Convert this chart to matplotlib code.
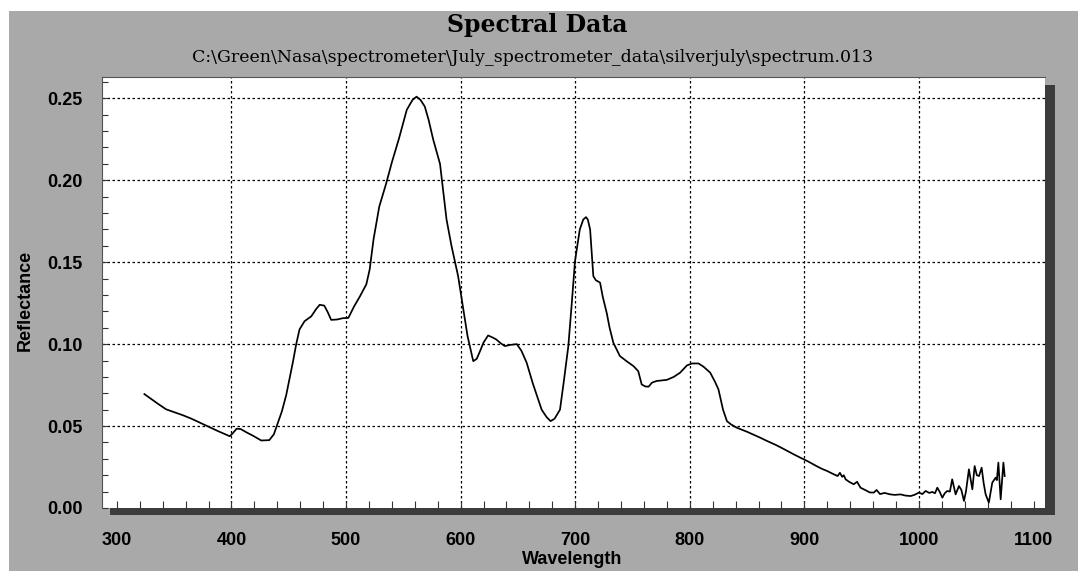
import matplotlib
matplotlib.use("Agg")
import matplotlib.pyplot as plt
from matplotlib.patches import Rectangle
from matplotlib.ticker import MultipleLocator, FixedLocator

# Spectrometer reading: wavelength (nm) and reflectance
wavelength = [
    324, 330, 336, 343, 350, 358, 365, 372, 380, 388, 394, 398.5, 401, 404.5,
    408, 413, 419, 426, 433, 437, 440.5, 444, 447.8, 451, 453.6, 456.5, 459.4,
    463.8, 469.7, 474, 477, 481, 484, 487, 492, 497, 502, 507, 512, 517.7,
    520.6, 524, 529, 535, 540, 546, 553, 558, 561.5, 565, 568.7, 572, 576,
    580, 582, 585, 587.7, 592, 597.8, 602, 606, 611, 614, 616.8, 620, 624,
    628, 631, 635, 638.6, 643, 649, 653, 657.6, 663, 670.7, 675, 678.5, 682,
    686.7, 690, 694, 697, 699.8, 704, 707, 709.4, 711, 713, 715.8, 718, 721.7,
    724, 727.5, 730, 733.3, 739, 745, 750.8, 755, 758, 761, 764, 767, 771,
    780, 786, 791.6, 797.5, 802, 807.6, 812, 817.8, 822, 825, 829, 832.4, 836,
    841, 850, 861.5, 867.4, 875, 882, 890, 896.5, 903, 910, 915, 919.8, 925,
    929, 931, 933, 934.4, 936, 939, 943, 946, 949, 953, 957, 960.6, 963, 966,
    970, 975, 979, 984, 988, 992.7, 996, 999.9, 1003, 1005.8, 1009, 1011.6,
    1014, 1016, 1018, 1020.4, 1022.5, 1024.7, 1027, 1029, 1032, 1034.9, 1037,
    1039.3, 1041, 1043.6, 1046.6, 1048.6, 1050.5, 1052.4, 1054.7, 1056.5,
    1058.2, 1061, 1064, 1066.9, 1068, 1069.3, 1071.3, 1073.7, 1074.8,
]
reflectance = [
    0.0695, 0.0665, 0.0635, 0.0602, 0.0585, 0.0565, 0.0545, 0.0522, 0.0495,
    0.0470, 0.0452, 0.0438, 0.0455, 0.0484, 0.0482, 0.0462, 0.0440, 0.0412,
    0.0414, 0.0450, 0.0520, 0.0590, 0.0690, 0.0800, 0.0890, 0.1000, 0.1090,
    0.1140, 0.1170, 0.1215, 0.1240, 0.1235, 0.1195, 0.1148, 0.1150, 0.1158,
    0.1160, 0.1230, 0.1290, 0.1365, 0.1455, 0.1640, 0.1840, 0.1980, 0.2110,
    0.2250, 0.2430, 0.2490, 0.2510, 0.2490, 0.2450, 0.2370, 0.2250, 0.2150,
    0.2100, 0.1920, 0.1760, 0.1600, 0.1415, 0.1230, 0.1050, 0.0896, 0.0910,
    0.0955, 0.1010, 0.1053, 0.1040, 0.1029, 0.1005, 0.0988, 0.0995, 0.1000,
    0.0960, 0.0887, 0.0760, 0.0600, 0.0555, 0.0530, 0.0545, 0.0600, 0.0770,
    0.0988, 0.1250, 0.1506, 0.1700, 0.1760, 0.1775, 0.1760, 0.1700, 0.1415,
    0.1390, 0.1375, 0.1290, 0.1190, 0.1100, 0.1008, 0.0927, 0.0895, 0.0866,
    0.0835, 0.0754, 0.0742, 0.0740, 0.0765, 0.0775, 0.0782, 0.0800, 0.0826,
    0.0870, 0.0882, 0.0882, 0.0862, 0.0826, 0.0770, 0.0724, 0.0600, 0.0530,
    0.0510, 0.0490, 0.0465, 0.0429, 0.0409, 0.0385, 0.0360, 0.0330, 0.0307,
    0.0285, 0.0258, 0.0240, 0.0226, 0.0208, 0.0195, 0.0215, 0.0190, 0.0200,
    0.0175, 0.0160, 0.0145, 0.0160, 0.0124, 0.0110, 0.0095, 0.0094, 0.0110,
    0.0085, 0.0092, 0.0083, 0.0080, 0.0083, 0.0076, 0.0073, 0.0080, 0.0094,
    0.0085, 0.0104, 0.0092, 0.0098, 0.0090, 0.0124, 0.0100, 0.0063, 0.0090,
    0.0104, 0.0100, 0.0175, 0.0083, 0.0134, 0.0110, 0.0043, 0.0100, 0.0236,
    0.0114, 0.0256, 0.0200, 0.0195, 0.0246, 0.0150, 0.0083, 0.0033, 0.0155,
    0.0185, 0.0170, 0.0277, 0.0053, 0.0277, 0.0195,
]

x_tick_values = [300, 400, 500, 600, 700, 800, 900, 1000, 1100]
y_tick_values = [0.00, 0.05, 0.10, 0.15, 0.20, 0.25]
x_grid_values = [400, 500, 600, 700, 800, 900, 1000]
y_grid_values = [0.05, 0.10, 0.15, 0.20, 0.25]

title = "Spectral Data"
subtitle = r"C:\Green\Nasa\spectrometer\July_spectrometer_data\silverjuly\spectrum.013"

W, H = 1078, 571
fig = plt.figure(figsize=(W / 100, H / 100), dpi=100)
fig.patch.set_facecolor("white")

# grey backdrop panel
fig.patches.append(Rectangle((9 / W, 0), 1 - 9 / W, 1 - 11 / H,
                             transform=fig.transFigure, facecolor="#a9a9a9",
                             edgecolor="none", zorder=0))

ax_left, ax_right, ax_top, ax_bottom = 102, 1045, 77, 508
# drop shadow behind the plotting area
fig.patches.append(Rectangle((110 / W, 1 - 515 / H), (1055 - 110) / W, (515 - 85) / H,
                             transform=fig.transFigure, facecolor="#3c3c3c",
                             edgecolor="none", zorder=1))

ax = fig.add_axes([ax_left / W, 1 - ax_bottom / H,
                   (ax_right - ax_left) / W, (ax_bottom - ax_top) / H])
ax.set_facecolor("white")
ax.set_zorder(2)

ax.plot(wavelength, reflectance, color="black", linewidth=1.25, zorder=3)

ax.set_xlim(287, 1110)
ax.set_ylim(0, 0.263)

for xv in x_grid_values:
    ax.axvline(xv, color="black", linewidth=0.9, linestyle=(0, (2, 2)), zorder=1)
for yv in y_grid_values:
    ax.axhline(yv, color="black", linewidth=0.9, linestyle=(0, (2, 2)), zorder=1)

ax.xaxis.set_major_locator(FixedLocator(x_tick_values))
ax.yaxis.set_major_locator(FixedLocator(y_tick_values))
ax.xaxis.set_minor_locator(MultipleLocator(20))
ax.yaxis.set_minor_locator(MultipleLocator(0.01))
ax.set_xticklabels([str(v) for v in x_tick_values])
ax.set_yticklabels([f"{v:.2f}" for v in y_tick_values])

for lab in ax.get_xticklabels() + ax.get_yticklabels():
    lab.set_fontfamily("Liberation Sans")
    lab.set_fontweight("bold")
    lab.set_fontsize(13)

ax.tick_params(axis="x", which="both", direction="in", length=5, width=0.8,
               color="#333333", pad=17, top=False)
ax.tick_params(axis="y", which="both", direction="in", length=4, width=0.8,
               color="#333333", pad=14, right=False)

for side in ["left", "top"]:
    ax.spines[side].set_color("#555555")
    ax.spines[side].set_linewidth(0.8)
for side in ["right", "bottom"]:
    ax.spines[side].set_visible(False)

fig.text(572 / W, 1 - 559 / H, "Wavelength", ha="center", va="center",
         family="Liberation Sans", weight="bold", size=13)
fig.text(25 / W, 1 - 300 / H, "Reflectance", ha="center", va="center",
         rotation=90, family="Liberation Sans", weight="bold", size=13)

fig.text(537 / W, 1 - 25 / H, title, ha="center", va="center",
         family="DejaVu Serif", weight="bold", size=17)
fig.text(533 / W, 1 - 57 / H, subtitle, ha="center", va="center",
         family="DejaVu Serif", size=12.5)

fig.savefig("out.png", dpi=100, facecolor=fig.get_facecolor())
